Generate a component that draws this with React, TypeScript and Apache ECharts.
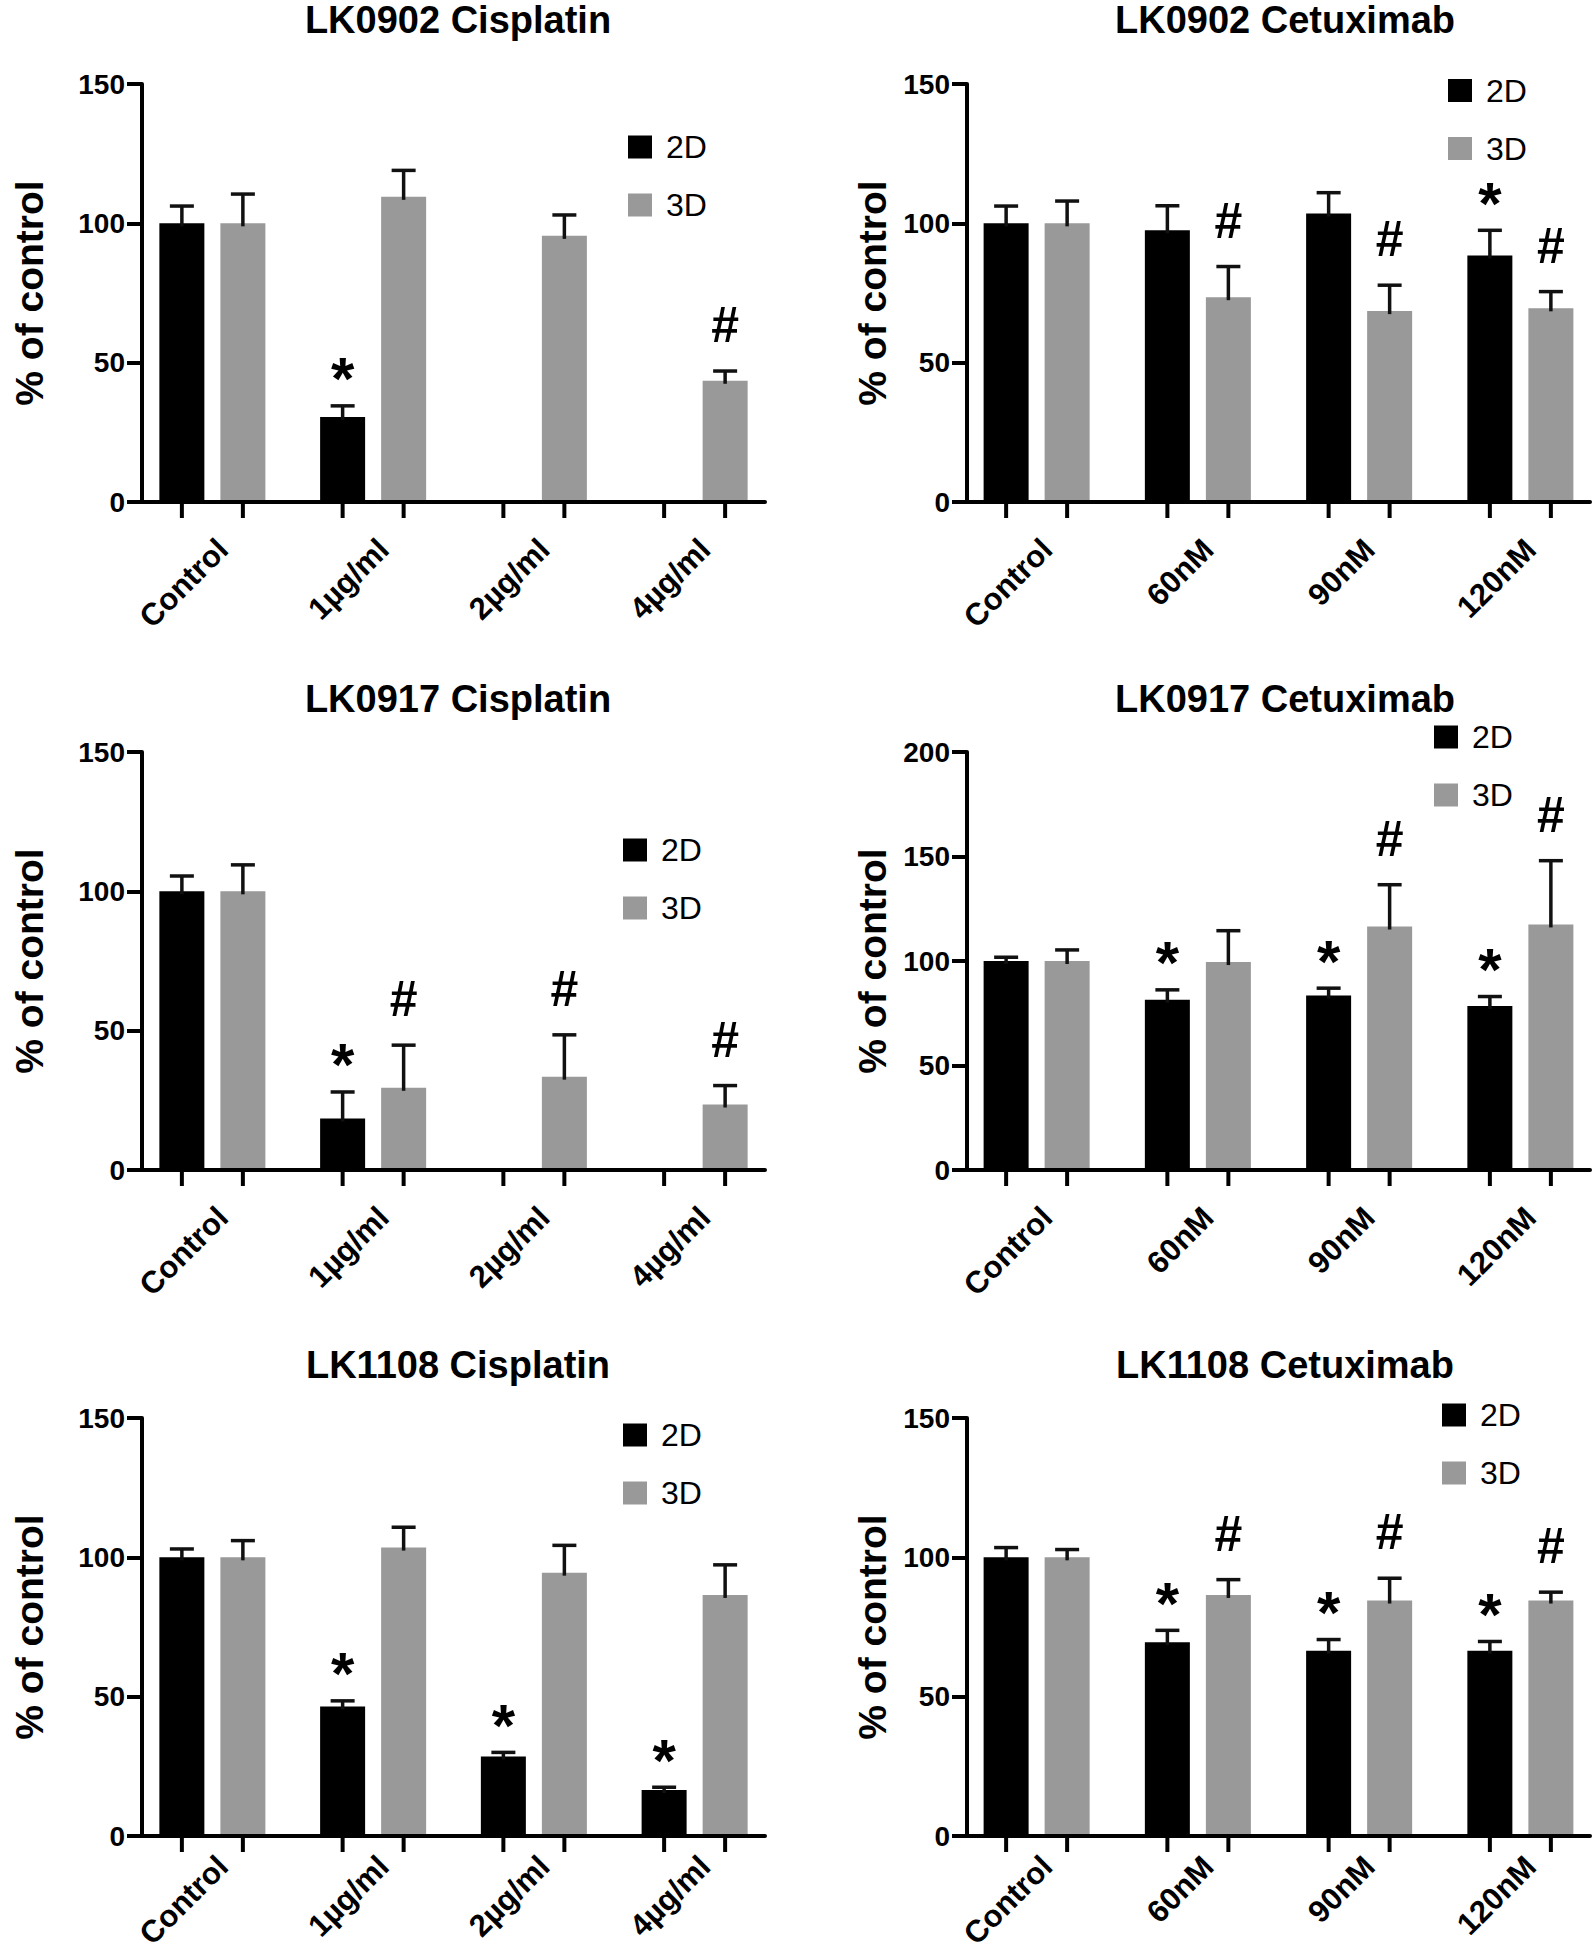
import { useEffect, useRef } from 'react';
import * as echarts from 'echarts';

// ---------- categories & labels ----------
const cisplatinCategories = ['Control', '1µg/ml', '2µg/ml', '4µg/ml'];
const cetuximabCategories = ['Control', '60nM', '90nM', '120nM'];
const legendNames = ['2D', '3D'];
const yAxisName = '% of control';
const ticks150 = [0, 50, 100, 150];
const ticks200 = [0, 50, 100, 150, 200];

// ---------- LK0902 Cisplatin ----------
const lk0902CisTitle = 'LK0902 Cisplatin';
const lk0902Cis2D = [100, 30.5, null, null];
const lk0902Cis2DErr = [6.2, 4, 0, 0];
const lk0902Cis2DMarks = ['', '*', '', ''];
const lk0902Cis3D = [100, 109.5, 95.5, 43.5];
const lk0902Cis3DErr = [10.5, 9.5, 7.5, 3.5];
const lk0902Cis3DMarks = ['', '', '', '#'];

// ---------- LK0902 Cetuximab ----------
const lk0902CetTitle = 'LK0902 Cetuximab';
const lk0902Cet2D = [100, 97.5, 103.5, 88.5];
const lk0902Cet2DErr = [6.2, 8.8, 7.5, 9];
const lk0902Cet2DMarks = ['', '', '', '*'];
const lk0902Cet3D = [100, 73.5, 68.5, 69.5];
const lk0902Cet3DErr = [8, 11, 9.3, 6];
const lk0902Cet3DMarks = ['', '#', '#', '#'];

// ---------- LK0917 Cisplatin ----------
const lk0917CisTitle = 'LK0917 Cisplatin';
const lk0917Cis2D = [100, 18.5, null, null];
const lk0917Cis2DErr = [5.5, 9.5, 0, 0];
const lk0917Cis2DMarks = ['', '*', '', ''];
const lk0917Cis3D = [100, 29.5, 33.5, 23.5];
const lk0917Cis3DErr = [9.5, 15.3, 15, 6.8];
const lk0917Cis3DMarks = ['', '#', '#', '#'];

// ---------- LK0917 Cetuximab ----------
const lk0917CetTitle = 'LK0917 Cetuximab';
const lk0917Cet2D = [100, 81.5, 83.5, 78.5];
const lk0917Cet2DErr = [1.8, 4.7, 3.5, 4.5];
const lk0917Cet2DMarks = ['', '*', '*', '*'];
const lk0917Cet3D = [100, 99.5, 116.5, 117.5];
const lk0917Cet3DErr = [5.3, 15, 20, 30.5];
const lk0917Cet3DMarks = ['', '', '#', '#'];

// ---------- LK1108 Cisplatin ----------
const lk1108CisTitle = 'LK1108 Cisplatin';
const lk1108Cis2D = [100, 46.5, 28.5, 16.5];
const lk1108Cis2DErr = [3, 2, 1.5, 1];
const lk1108Cis2DMarks = ['', '*', '*', '*'];
const lk1108Cis3D = [100, 103.5, 94.5, 86.5];
const lk1108Cis3DErr = [6, 7.3, 9.8, 10.8];
const lk1108Cis3DMarks = ['', '', '', ''];

// ---------- LK1108 Cetuximab ----------
const lk1108CetTitle = 'LK1108 Cetuximab';
const lk1108Cet2D = [100, 69.5, 66.5, 66.5];
const lk1108Cet2DErr = [3.5, 4.3, 4, 3.3];
const lk1108Cet2DMarks = ['', '*', '*', '*'];
const lk1108Cet3D = [100, 86.5, 84.5, 84.5];
const lk1108Cet3DErr = [2.8, 5.5, 8, 3];
const lk1108Cet3DMarks = ['', '#', '#', '#'];

// ---------- panels (row-major) ----------
const panels = [
  { title: lk0902CisTitle, cats: cisplatinCategories, ticks: ticks150, m2: lk0902Cis2D, e2: lk0902Cis2DErr, k2: lk0902Cis2DMarks, m3: lk0902Cis3D, e3: lk0902Cis3DErr, k3: lk0902Cis3DMarks },
  { title: lk0902CetTitle, cats: cetuximabCategories, ticks: ticks150, m2: lk0902Cet2D, e2: lk0902Cet2DErr, k2: lk0902Cet2DMarks, m3: lk0902Cet3D, e3: lk0902Cet3DErr, k3: lk0902Cet3DMarks },
  { title: lk0917CisTitle, cats: cisplatinCategories, ticks: ticks150, m2: lk0917Cis2D, e2: lk0917Cis2DErr, k2: lk0917Cis2DMarks, m3: lk0917Cis3D, e3: lk0917Cis3DErr, k3: lk0917Cis3DMarks },
  { title: lk0917CetTitle, cats: cetuximabCategories, ticks: ticks200, m2: lk0917Cet2D, e2: lk0917Cet2DErr, k2: lk0917Cet2DMarks, m3: lk0917Cet3D, e3: lk0917Cet3DErr, k3: lk0917Cet3DMarks },
  { title: lk1108CisTitle, cats: cisplatinCategories, ticks: ticks150, m2: lk1108Cis2D, e2: lk1108Cis2DErr, k2: lk1108Cis2DMarks, m3: lk1108Cis3D, e3: lk1108Cis3DErr, k3: lk1108Cis3DMarks },
  { title: lk1108CetTitle, cats: cetuximabCategories, ticks: ticks150, m2: lk1108Cet2D, e2: lk1108Cet2DErr, k2: lk1108Cet2DMarks, m3: lk1108Cet3D, e3: lk1108Cet3DErr, k3: lk1108Cet3DMarks },
];

// ---------- layout / style ----------
const FONT = '"Liberation Sans", Arial, Helvetica, sans-serif';
const COLOR_2D = '#000000';
const COLOR_3D = '#999999';
const ERR_COLOR = '#111111';
const BAR_W = 45;
const BAR_OFFSET = 30.5;
const PLOT_H = 418;
const COLS = [
  { frameLeft: 142, frameRight: 765, dataLeft: 132, dataWidth: 643, nameGap: 93, titleX: 453 },
  { frameLeft: 967, frameRight: 1590, dataLeft: 956, dataWidth: 645, nameGap: 75, titleX: 1280 },
];
const ROWS = [
  { top: 84, titleY: 20, labelMargin: 32 },
  { top: 752, titleY: 699, labelMargin: 32 },
  { top: 1418, titleY: 1365, labelMargin: 15 },
];
const LEGEND_POS = [
  [628, 147], [1448, 90.5],
  [623, 850], [1434, 737],
  [623, 1435], [1442, 1415],
];

function buildOption() {
  const grid: any[] = [];
  const xAxis: any[] = [];
  const yAxis: any[] = [];
  const series: any[] = [];
  const title: any[] = [];
  const legend: any[] = [];

  panels.forEach((p, i) => {
    const col = COLS[i % 2];
    const row = ROWS[Math.floor(i / 2)];
    const yMax = p.ticks[p.ticks.length - 1];
    const yInterval = p.ticks[1] - p.ticks[0];
    const gData = 2 * i;
    const gFrame = 2 * i + 1;

    grid.push({ left: col.dataLeft, top: row.top, width: col.dataWidth, height: PLOT_H, containLabel: false, outerBoundsMode: 'none' });
    grid.push({ left: col.frameLeft, top: row.top, width: col.frameRight - col.frameLeft, height: PLOT_H, containLabel: false, outerBoundsMode: 'none' });

    xAxis.push({
      type: 'category', gridIndex: gData, data: p.cats,
      axisLine: { show: false }, axisTick: { show: false }, splitLine: { show: false },
      axisLabel: {
        interval: 0, rotate: 45, margin: row.labelMargin, align: 'right', verticalAlign: 'top', lineHeight: 29,
        fontSize: 31, fontWeight: 'bold', color: '#000', fontFamily: FONT,
      },
    });
    xAxis.push({
      type: 'value', gridIndex: gFrame, min: 0, max: 1, z: 10,
      axisLine: { show: true, onZero: true, lineStyle: { color: '#000', width: 4 } },
      axisTick: { show: false }, axisLabel: { show: false }, splitLine: { show: false },
    });
    yAxis.push({ type: 'value', gridIndex: gData, min: 0, max: yMax, show: false });
    yAxis.push({
      type: 'value', gridIndex: gFrame, min: 0, max: yMax, interval: yInterval, z: 10,
      axisLine: { show: true, lineStyle: { color: '#000', width: 4 } },
      axisTick: { show: true, length: 15, lineStyle: { color: '#000', width: 4 } },
      axisLabel: { margin: 17, fontSize: 28, fontWeight: 'bold', color: '#000', fontFamily: FONT },
      splitLine: { show: false },
      name: yAxisName, nameLocation: 'middle', nameGap: col.nameGap,
      nameTextStyle: { fontSize: 39, fontWeight: 'bold', color: '#000', fontFamily: FONT },
    });

    series.push({
      type: 'bar', name: legendNames[0], xAxisIndex: gData, yAxisIndex: gData,
      data: p.m2, barWidth: BAR_W, barGap: '35.6%', itemStyle: { color: COLOR_2D }, silent: true,
    });
    series.push({
      type: 'bar', name: legendNames[1], xAxisIndex: gData, yAxisIndex: gData,
      data: p.m3, barWidth: BAR_W, barGap: '35.6%', itemStyle: { color: COLOR_3D }, silent: true,
    });

    const groups = [
      { means: p.m2, errs: p.e2, marks: p.k2, sign: -1 },
      { means: p.m3, errs: p.e3, marks: p.k3, sign: 1 },
    ];
    groups.forEach((g, gi) => {
      series.push({
        type: 'custom', name: `errors-${i}-${gi}`, xAxisIndex: gData, yAxisIndex: gData,
        z: 6, silent: true, clip: false,
        data: g.means.map((m, k) => [k, m == null ? 0 : m, g.errs[k] || 0]),
        encode: { x: 0, y: 1 },
        renderItem: (params: any, api: any) => {
          const cat = api.value(0);
          const mean = api.value(1);
          const err = api.value(2);
          const base = api.coord([cat, 0]);
          const x = base[0] + g.sign * BAR_OFFSET;
          const children: any[] = [
            { type: 'line', shape: { x1: x, y1: base[1], x2: x, y2: base[1] + 16 }, style: { stroke: '#000', lineWidth: 4 } },
          ];
          if (mean > 0) {
            const yTop = api.coord([cat, mean])[1];
            const yErr = api.coord([cat, mean + err])[1];
            if (err > 0) {
              children.push({ type: 'line', shape: { x1: x, y1: yTop + 3, x2: x, y2: yErr }, style: { stroke: ERR_COLOR, lineWidth: 3.5 } });
              children.push({ type: 'line', shape: { x1: x - 12, y1: yErr, x2: x + 12, y2: yErr }, style: { stroke: ERR_COLOR, lineWidth: 3.5 } });
            }
            const mark = g.marks[params.dataIndex];
            if (mark) {
              const isStar = mark === '*';
              children.push({
                type: 'text', x, y: yErr - (isStar ? 27 : 46),
                style: {
                  text: mark, fill: '#000', fontFamily: FONT, fontWeight: 'bold',
                  fontSize: isStar ? 60 : 50, align: 'center', verticalAlign: 'middle',
                },
              });
            }
          }
          return { type: 'group', children };
        },
      });
    });

    title.push({
      text: p.title, left: col.titleX, top: row.titleY - 19 - 5, textAlign: 'center',
      textStyle: { fontSize: 38, fontWeight: 'bold', color: '#000', fontFamily: FONT, lineHeight: 38 },
    });
    const [lx, ly] = LEGEND_POS[i];
    legend.push({
      data: legendNames, orient: 'vertical', left: lx - 5, top: ly - 16 - 5,
      itemWidth: 24, itemHeight: 23, itemGap: 26, icon: 'rect', selectedMode: false,
      textStyle: { fontSize: 32, color: '#000', fontFamily: FONT, lineHeight: 32, padding: [0, 0, 0, 9] },
    });
  });

  return {
    animation: false,
    backgroundColor: '#ffffff',
    textStyle: { fontFamily: FONT },
    title, legend, grid, xAxis, yAxis, series,
  };
}

export default function App() {
  const ref = useRef<HTMLDivElement>(null);
  useEffect(() => {
    if (!ref.current) return;
    const chart = echarts.init(ref.current, undefined, { renderer: 'svg' });
    chart.setOption(buildOption() as any);
    return () => chart.dispose();
  }, []);
  return (
    <div
      ref={ref}
      style={{ position: 'absolute', left: 0, top: 0, width: 1595, height: 1952, background: '#fff' }}
    />
  );
}
